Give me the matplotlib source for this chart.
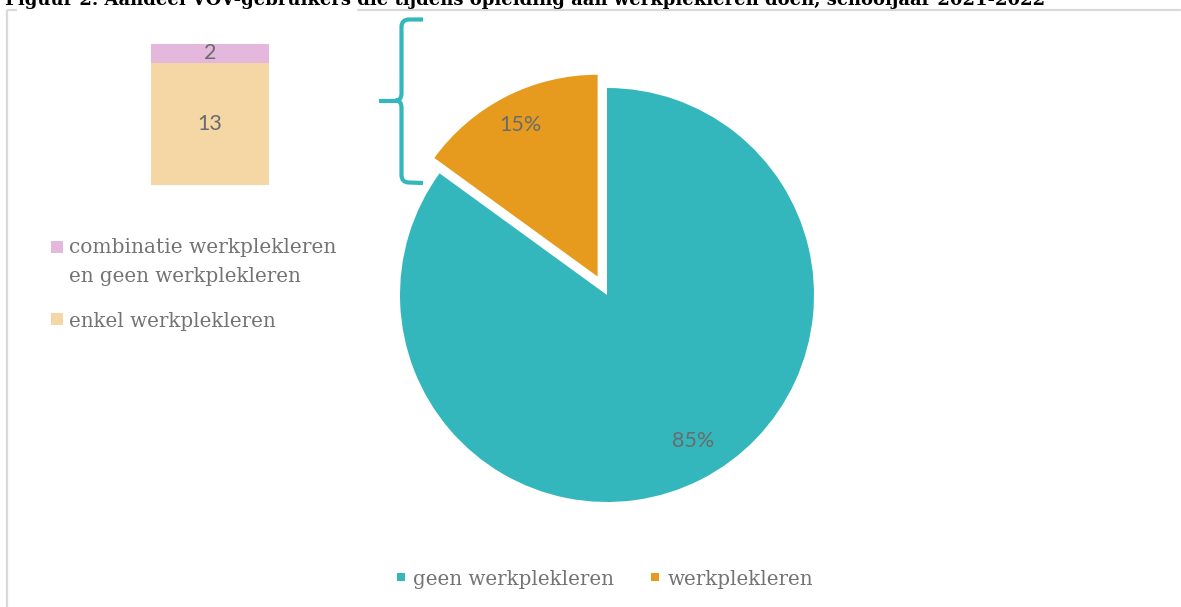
import matplotlib
matplotlib.use("Agg")
import matplotlib.pyplot as plt
from matplotlib.path import Path
from matplotlib.patches import PathPatch, Rectangle

# ---- data ----
title = "Figuur 2. Aandeel VOV-gebruikers die tijdens opleiding aan werkplekleren doen, schooljaar 2021-2022"
pie_labels = ["geen werkplekleren", "werkplekleren"]
pie_values = [85, 15]
bar_labels = ["enkel werkplekleren", "combinatie werkplekleren\nen geen werkplekleren"]
bar_values = [13, 2]

# ---- styles ----
W, H = 1181, 607
teal = "#33B7BC"
orange = "#E69B1F"
tan = "#F5D6A5"
pink = "#E3B8DC"
txt = "#737373"
numc = "#6b6b6b"
serif = ["DejaVu Serif"]
sans = ["Lato", "DejaVu Sans"]

fig = plt.figure(figsize=(W / 100, H / 100), dpi=100)
fig.patch.set_facecolor("white")

# overlay axes in pixel coordinates (for frame, legends, bracket, title)
ov = fig.add_axes([0, 0, 1, 1])
ov.set_xlim(0, W)
ov.set_ylim(H, 0)
ov.axis("off")
ov.patch.set_alpha(0)

renderer = fig.canvas.get_renderer()

def fit_text(x, y, s, target_w, size0, **kw):
    t = ov.text(x, y, s, fontsize=size0, **kw)
    bb = t.get_window_extent(renderer=renderer)
    t.set_fontsize(size0 * target_w / bb.width)
    return t

# frame
ov.plot([6.5, 6.5], [H + 5, 9.5], color="#d9d9d9", lw=1.6, solid_capstyle="butt")
ov.plot([6.5, 17], [9.5, 9.5], color="#d9d9d9", lw=1.6, solid_capstyle="butt")
ov.plot([358, 1180], [9.5, 9.5], color="#d9d9d9", lw=1.6, solid_capstyle="round")

# title (cut off at top like the reference)
fit_text(5, 5, title, 1043, 15, family=serif, color="black", va="baseline",
         ha="left", fontweight="bold")

# ---- pie ----
cx, cy, r = 607, 295, 207
pax = fig.add_axes([(cx - r) / W, (H - cy - r) / H, 2 * r / W, 2 * r / H])
wedges, texts, autotexts = pax.pie(
    pie_values, colors=[teal, orange], explode=[0, 0.1], startangle=90,
    counterclock=False, autopct="%1.0f%%", pctdistance=0.82,
    wedgeprops=dict(linewidth=0),
    textprops=dict(color=numc, fontsize=15.5, family=sans))
wedges[1].set_radius(0.975)
autotexts[0].set_position((0.415, -0.705))
pax.set_xlim(-1, 1)
pax.set_ylim(-1, 1)
pax.set_aspect("auto")
pax.axis("off")

# ---- stacked bar ----
bx0, bx1, by0, by1 = 151, 269, 44, 185
bax = fig.add_axes([bx0 / W, (H - by1) / H, (bx1 - bx0) / W, (by1 - by0) / H])
bottom = 0
for val, col in zip(bar_values, [tan, pink]):
    bax.bar(0, val, width=1, bottom=bottom, color=col, linewidth=0)
    bax.text(0, bottom + val / 2, f"{val}", ha="center", va="center",
             color=numc, fontsize=15.5, family=sans)
    bottom += val
bax.set_xlim(-0.5, 0.5)
bax.set_ylim(0, sum(bar_values))
bax.axis("off")

# ---- left legend ----
sq = 12
ov.add_patch(Rectangle((51, 241), sq, sq, color=pink, lw=0))
fit_text(69, 253, "combinatie werkplekleren", 268, 14, family=serif, color=txt,
         va="baseline")
fit_text(69, 281.5, "en geen werkplekleren", 233, 14, family=serif, color=txt,
         va="baseline")
ov.add_patch(Rectangle((51, 313), sq, sq, color=tan, lw=0))
fit_text(69, 327, "enkel werkplekleren", 207, 14, family=serif, color=txt,
         va="baseline")

# ---- bottom legend ----
s2 = 8
ov.add_patch(Rectangle((397, 573), s2, s2, color=teal, lw=0))
fit_text(413, 585, pie_labels[0], 201, 14, family=serif, color=txt, va="baseline")
ov.add_patch(Rectangle((651, 573), s2, s2, color=orange, lw=0))
fit_text(668, 585, pie_labels[1], 146, 14, family=serif, color=txt, va="baseline")

# ---- bracket ----
verts = [(423, 19.5), (409, 19.5), (401.5, 19.5), (401.5, 27),
         (401.5, 93), (401.5, 100.5), (396, 100.5),
         (401.5, 100.5), (401.5, 108),
         (401.5, 175), (401.5, 182.5), (409, 182.5), (423, 183)]
codes = [Path.MOVETO, Path.LINETO, Path.CURVE3, Path.CURVE3,
         Path.LINETO, Path.CURVE3, Path.CURVE3,
         Path.CURVE3, Path.CURVE3,
         Path.LINETO, Path.CURVE3, Path.CURVE3, Path.LINETO]
ov.add_patch(PathPatch(Path(verts, codes), fill=False, edgecolor=teal, lw=3.0,
                       capstyle="butt", joinstyle="round"))
ov.plot([379, 397], [100.5, 100.5], color=teal, lw=3.0, solid_capstyle="butt")

fig.savefig("out.png", dpi=100, facecolor="white")
